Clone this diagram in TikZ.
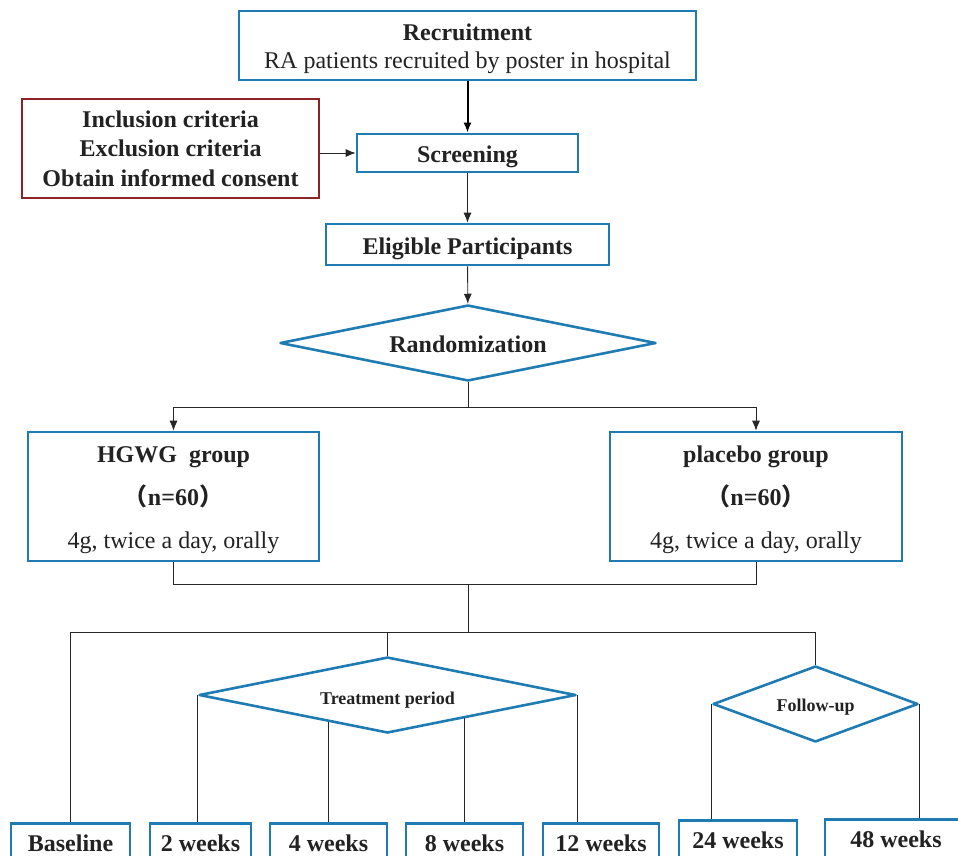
\documentclass[tikz,border=0pt]{standalone}
\usepackage{fontspec}
\setmainfont{Liberation Serif}
\newfontfamily\cjkfont{Noto Sans CJK SC}
\usetikzlibrary{shapes.geometric,arrows.meta,calc}
\definecolor{boxblue}{RGB}{31,124,179}
\definecolor{boxred}{RGB}{142,35,38}
\definecolor{txt}{RGB}{34,34,34}
\tikzset{
  bluebox/.style={draw=boxblue,line width=2.6pt,rectangle,inner sep=0pt,text=txt,align=center},
  redbox/.style={draw=boxred,line width=2.6pt,rectangle,inner sep=0pt,text=txt,align=center},
  bluedia/.style={draw=boxblue,line width=2.6pt,line join=round,diamond,inner sep=0pt,text=txt},
  big/.style={font=\fontsize{24}{24}\selectfont},
  bigbf/.style={font=\fontsize{24}{24}\selectfont\bfseries},
  line/.style={inner sep=0pt,text=txt,text height=17pt,text depth=5pt},
  wkbox/.style={bluebox,anchor=north,minimum height=60pt,bigbf,text height=28pt,text depth=32pt},
  conn/.style={draw=black!85,line width=0.9pt},
  thick conn/.style={draw=black,line width=2pt},
  arr/.style={-{Latex[length=10pt,width=8pt]}},
}
\begin{document}
\begin{tikzpicture}[x=1pt,y=-1pt]
\useasboundingbox (0,0) rectangle (958,855);
\clip (0,0) rectangle (958,855);
% top
\node[bluebox,minimum width=457pt,minimum height=69pt] (rec) at (467.5,45.5) {};
\node[line,bigbf] (recA) at (467.5,34) {Recruitment};
\node[line,big] (recB) at (467.5,62) {RA patients recruited by poster in hospital};
\node[redbox,minimum width=297pt,minimum height=99pt,font=\fontsize{24}{29.5}\selectfont\bfseries] (incl) at (170.5,148.5)
  {Inclusion criteria\\Exclusion criteria\\Obtain informed consent};
\node[bluebox,minimum width=221pt,minimum height=38pt,bigbf,text height=20pt,text depth=2pt] (scr) at (467.5,153) {Screening};
\node[bluebox,minimum width=283pt,minimum height=41pt,bigbf,text height=21pt,text depth=2pt] (elig) at (467.5,244.5) {Eligible Participants};
\node[bluedia,minimum width=376pt,minimum height=76pt,aspect=4.95,bigbf,text height=20pt,text depth=2pt] (rand) at (468,343) {Randomization};
% groups
\node[bluebox,minimum width=291pt,minimum height=129pt] (hgwg) at (173.5,496.5) {};
\node[line,bigbf] (hgwgA) at (173.5,456) {HGWG\ \ group};
\node[line,bigbf] (hgwgB) at (173.5,499) {{\cjkfont （}n=60{\cjkfont ）}};
\node[line,big] (hgwgC) at (173.5,542) {4g, twice a day, orally};
\node[bluebox,minimum width=292pt,minimum height=129pt] (plac) at (756,496.5) {};
\node[line,bigbf] (placA) at (756,456) {placebo group};
\node[line,bigbf] (placB) at (756,499) {{\cjkfont （}n=60{\cjkfont ）}};
\node[line,big] (placC) at (756,542) {4g, twice a day, orally};
% phase diamonds
\node[bluedia,minimum width=377pt,minimum height=76pt,aspect=4.96,font=\fontsize{18}{22}\selectfont\bfseries,text height=20pt,text depth=2pt] (treat) at (387.5,695) {Treatment period};
\node[bluedia,minimum width=205pt,minimum height=76pt,aspect=2.7,font=\fontsize{18}{22}\selectfont\bfseries,text height=16pt,text depth=2pt] (fu) at (815.5,704) {Follow-up};
% bottom boxes
\node[wkbox,minimum width=119pt] (base) at (70.5,822) {Baseline};
\node[wkbox,minimum width=101pt] (w2) at (200.5,822) {2 weeks};
\node[wkbox,minimum width=117pt] (w4) at (328.5,822) {4 weeks};
\node[wkbox,minimum width=117pt] (w8) at (464.5,822) {8 weeks};
\node[wkbox,minimum width=116pt] (w12) at (601,822) {12 weeks};
\node[wkbox,minimum width=118pt] (w24) at (738,819) {24 weeks};
\node[wkbox,minimum width=142pt] (w48) at (896,818) {48 weeks};
% connectors top
\draw[thick conn,arr] (rec) -- (scr);
\draw[conn,arr] (incl.east |- scr.west) -- (scr.west);
\draw[conn,arr] (scr) -- (elig);
\draw[conn,arr] (elig) -- (rand);
\coordinate (split1) at (468,407);
\draw[conn] (rand.south) -- (split1);
\draw[conn,arr] (split1) -| (hgwg.north);
\draw[conn,arr] (split1) -| (plac.north);
% merge
\coordinate (merge) at (468,584);
\coordinate (split2) at (468,632);
\draw[conn] (hgwg.south) |- (merge) -| (plac.south);
\draw[conn] (merge) -- (split2);
\draw[conn] (split2) -| (base.north);
\draw[conn] (split2) -| (fu.north);
\draw[conn] (split2 -| treat.north) -- (treat.north);
% treatment branches
\coordinate (t4) at ($(treat.west)!0.689!(treat.south)$);
\coordinate (t8) at ($(treat.south)!0.41!(treat.east)$);
\draw[conn] (treat.west) -- (treat.west |- w2.north);
\draw[conn] (w4.north |- t4) -- (w4.north);
\draw[conn] (w8.north |- t8) -- (w8.north);
\draw[conn] (treat.east) -- (treat.east |- w12.north);
\draw[conn] (fu.west) -- (fu.west |- w24.north);
\draw[conn] (fu.east) -- (fu.east |- w48.north);
\end{tikzpicture}
\end{document}
